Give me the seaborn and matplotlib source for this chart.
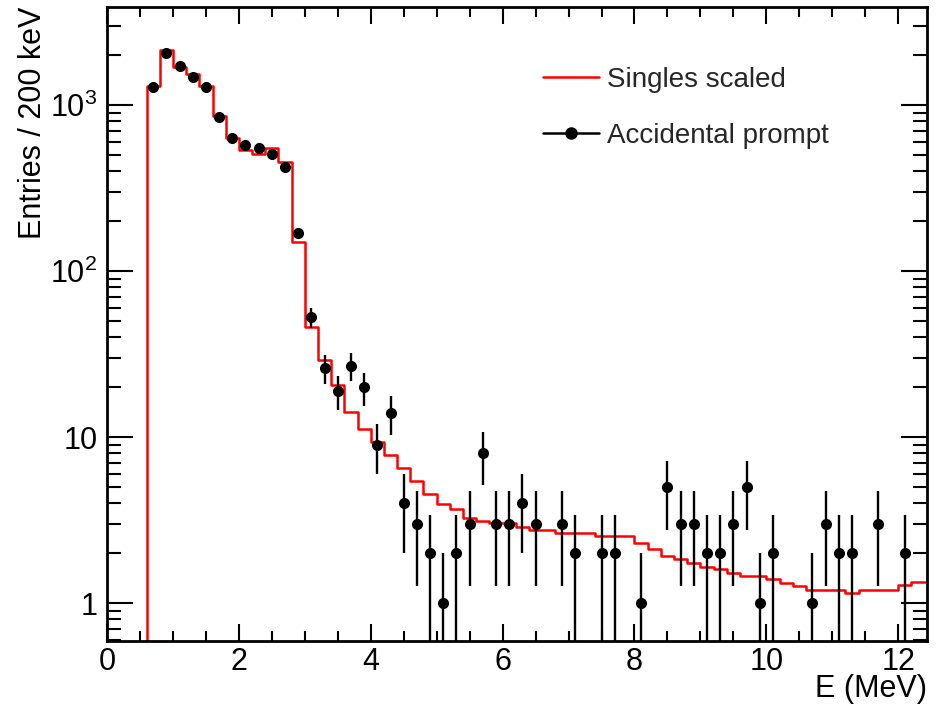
import numpy as np
import pandas as pd
import matplotlib
matplotlib.use("Agg")
import matplotlib.pyplot as plt
from matplotlib.lines import Line2D
from matplotlib.ticker import FixedLocator, FixedFormatter, MultipleLocator, LogLocator, NullFormatter
import seaborn as sns

# Singles spectrum scaled to the accidental rate, 200 keV bins starting at 0.6 MeV
bin_start = 0.6
bin_width = 0.2
singles_scaled = [1300, 2150, 1700, 1540, 1300, 862, 630, 540, 505, 550, 457, 150,
                  46, 29.2, 20.5, 14.1, 11.2, 9.4, 7.8, 6.5, 5.46, 4.54, 3.94, 3.70,
                  3.28, 3.15, 3.03, 3.03, 2.90, 2.77, 2.77, 2.66, 2.66, 2.66, 2.53,
                  2.53, 2.53, 2.31, 2.11, 1.93, 1.84, 1.75, 1.66, 1.60, 1.53, 1.47,
                  1.47, 1.40, 1.33, 1.27, 1.21, 1.21, 1.21, 1.16, 1.21, 1.21, 1.21,
                  1.28, 1.34]

# Accidental prompt candidates (bin centre in MeV, entries)
prompt_energy = [0.7, 0.9, 1.1, 1.3, 1.5, 1.7, 1.9, 2.1, 2.3, 2.5, 2.7, 2.9, 3.1,
                 3.3, 3.5, 3.7, 3.9, 4.1, 4.3, 4.5, 4.7, 4.9, 5.1, 5.3, 5.5, 5.7,
                 5.9, 6.1, 6.3, 6.5, 6.9, 7.1, 7.5, 7.7, 8.1, 8.5, 8.7, 8.9, 9.1,
                 9.3, 9.5, 9.7, 9.9, 10.1, 10.7, 10.9, 11.1, 11.3, 11.7, 12.1]
prompt_entries = [1290, 2055, 1709, 1486, 1290, 853, 638, 577, 551, 509, 424, 169,
                  53, 26, 19, 27, 20, 9, 14, 4, 3, 2, 1, 2, 3, 8,
                  3, 3, 4, 3, 3, 2, 2, 2, 1, 5, 3, 3, 2,
                  2, 3, 5, 1, 2, 1, 3, 2, 2, 3, 2]

y_ticks = [1, 10, 100, 1000]
y_tick_labels = ["1", "10", r"$10^{2}$", r"$10^{3}$"]
legend_labels = ["Singles scaled", "Accidental prompt"]

sns.set_theme(style="ticks")
plt.rcParams["font.family"] = ["Liberation Sans", "DejaVu Sans"]
plt.rcParams["mathtext.default"] = "regular"

fig = plt.figure(figsize=(9.38, 7.05), dpi=100)
ax = fig.add_axes([0.1141, 0.0908, 0.8737, 0.8993])

# step outline of the singles histogram
n_bins = len(singles_scaled)
edges = np.round(bin_start + bin_width * np.arange(n_bins + 1), 2)
step_df = pd.DataFrame({
    "E": np.r_[edges[0], edges],
    "N": np.r_[0.0, singles_scaled, singles_scaled[-1]],
})
sns.lineplot(data=step_df, x="E", y="N", ax=ax, color="#ff0000", lw=1.8,
             drawstyle="steps-post", sort=False, estimator=None)

# prompt candidates with Poisson errors
counts = np.asarray(prompt_entries, dtype=float)
err = np.sqrt(counts)
ax.errorbar(prompt_energy, counts, yerr=err, fmt="none", ecolor="black",
            elinewidth=1.7, capsize=0, zorder=3)
sns.scatterplot(x=prompt_energy, y=prompt_entries, ax=ax, color="black",
                s=64, marker="o", edgecolor="black", linewidth=0, zorder=4)

ax.set_yscale("log")
ax.set_xlim(0, 12.43)
ax.set_ylim(0.593, 3900)

ax.yaxis.set_major_locator(FixedLocator(y_ticks))
ax.yaxis.set_major_formatter(FixedFormatter(y_tick_labels))
ax.yaxis.set_minor_locator(LogLocator(base=10, subs=np.arange(2, 10)))
ax.yaxis.set_minor_formatter(NullFormatter())
ax.xaxis.set_major_locator(MultipleLocator(2))
ax.xaxis.set_minor_locator(MultipleLocator(0.5))

ax.tick_params(which="both", direction="in", top=True, right=True, width=1.5,
               color="black", labelcolor="black", labelsize=22)
ax.tick_params(axis="y", which="major", length=19, pad=7)
ax.tick_params(axis="y", which="minor", length=10)
ax.tick_params(axis="x", which="major", length=12, pad=4)
ax.tick_params(axis="x", which="minor", length=7.5)
for sp in ax.spines.values():
    sp.set_linewidth(2)
    sp.set_color("black")

ax.set_xlabel("E (MeV)", fontsize=22, color="black")
ax.set_ylabel("Entries / 200 keV", fontsize=22, color="black")
ax.xaxis.set_label_coords(1.0, -0.052)
ax.xaxis.label.set_horizontalalignment("right")
ax.yaxis.set_label_coords(-0.0715, 1.0)
ax.yaxis.label.set_horizontalalignment("right")

handles = [Line2D([0], [0], color="#ff0000", lw=1.8),
           Line2D([0], [0], color="black", lw=1.8, marker="o", markersize=8)]
ax.legend(handles, legend_labels, loc="upper left", bbox_to_anchor=(0.532, 0.906),
          frameon=False, fontsize=20, handlelength=2.0, handletextpad=0.32,
          labelspacing=1.1, borderpad=0, borderaxespad=0)

fig.savefig("out.png", dpi=100)
